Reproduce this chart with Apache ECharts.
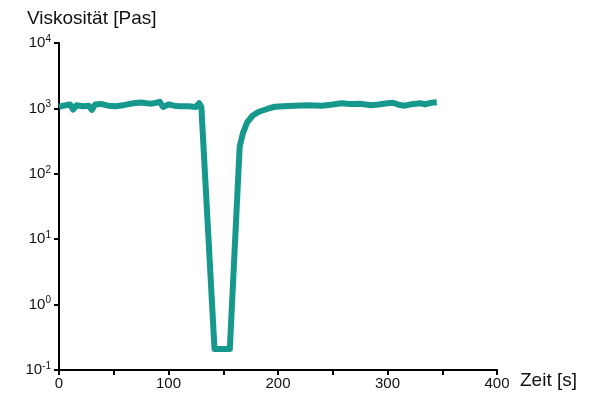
<!DOCTYPE html>
<html>
<head>
<meta charset="utf-8">
<script src="https://cdn.jsdelivr.net/npm/echarts@6/dist/echarts.min.js"></script>
<style>html,body{margin:0;padding:0;background:#fff;}#c{width:598px;height:406px;}</style>
</head>
<body>
<div id="c"></div>
<script>
var timeS = [0,4,10,13,16,22,27,30,33,38,45,52,60,68,75,80,85,92,95,100,105,110,118,125,128,130,142,156,165,168,172,177,182,190,197,205,215,227,240,250,258,265,275,285,292,300,305,310,316,322,330,334,340,345];
var viscosity = [1060,1100,1150,960,1120,1080,1100,950,1150,1170,1100,1080,1130,1200,1230,1200,1180,1260,1050,1150,1100,1080,1080,1050,1200,1050,0.21,0.21,260,420,620,780,880,980,1060,1080,1100,1120,1100,1150,1200,1170,1180,1120,1150,1200,1220,1140,1100,1160,1200,1150,1220,1240];
var xTicks = [0,100,200,300,400];
var yExponents = [-1,0,1,2,3,4];
var yTitle = 'Viskosität [Pas]';
var xTitle = 'Zeit [s]';

var data = timeS.map(function(t,i){return [t, viscosity[i]];});
var chart = echarts.init(document.getElementById('c'));
var font = 'Liberation Sans, Arial, sans-serif';
chart.setOption({
  animation:false,
  grid:{left:59,right:101,top:43,bottom:36},
  xAxis:{type:'value',min:0,max:400,interval:50,
    axisLine:{lineStyle:{color:'#000',width:2}},
    axisTick:{length:5,lineStyle:{color:'#000',width:2}},
    splitLine:{show:false},
    axisLabel:{color:'#111',fontSize:15,fontFamily:font,margin:6,
      formatter:function(v){return xTicks.indexOf(v)>=0?String(v):'';}}
  },
  yAxis:{type:'log',logBase:10,min:0.1,max:10000,
    axisLine:{show:true,lineStyle:{color:'#000',width:2}},
    axisTick:{show:true,length:5,lineStyle:{color:'#000',width:2}},
    splitLine:{show:false},
    minorTick:{show:false},
    axisLabel:{color:'#111',fontFamily:font,margin:8,
      formatter:function(v){var e=Math.round(Math.log10(v));if(yExponents.indexOf(e)<0)return '';return '{b|10}{s|'+e+'}';},
      rich:{b:{fontSize:15,fontFamily:font,color:'#111'},s:{fontSize:10,fontFamily:font,color:'#111',padding:[0,0,8,0]}}
    }
  },
  graphic:[
    {type:'text',left:27,top:9,style:{text:yTitle,font:'19px '+font,fill:'#111'}},
    {type:'text',left:520,top:371,style:{text:xTitle,font:'19px '+font,fill:'#111'}}
  ],
  series:[{type:'line',data:data,showSymbol:false,smooth:false,
    lineStyle:{color:'#16988c',width:6,join:'round'},itemStyle:{color:'#16988c'}}]
});
</script>
</body>
</html>
